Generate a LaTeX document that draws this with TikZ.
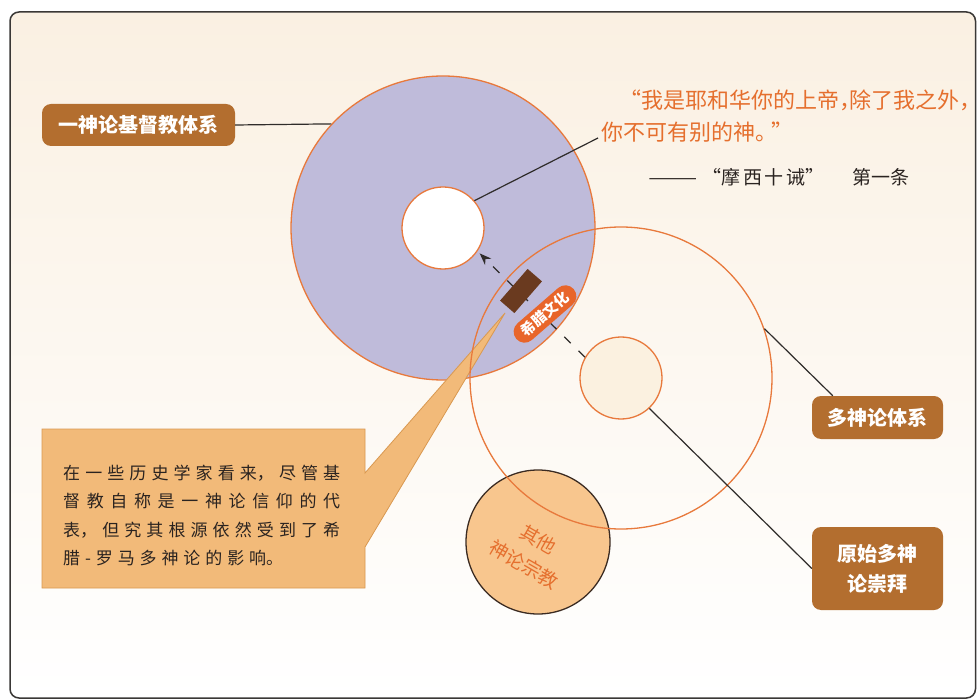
\documentclass[tikz,border=0pt]{standalone}
\usepackage{fontspec}
\newfontfamily\cjk{Noto Sans CJK SC}
\usetikzlibrary{arrows.meta}
\definecolor{bgtop}{HTML}{FAF0E2}
\definecolor{bgbot}{HTML}{FFFFFF}
\definecolor{framec}{HTML}{3A3836}
\definecolor{lav}{HTML}{BFBBDA}
\definecolor{orln}{HTML}{E8793C}
\definecolor{lblbrown}{HTML}{B36E2F}
\definecolor{calloutc}{HTML}{F2BA79}
\definecolor{calloutedge}{HTML}{D99850}
\definecolor{otherc}{HTML}{F8C68E}
\definecolor{otheredge}{HTML}{3B2B22}
\definecolor{primc}{HTML}{FBF1E0}
\definecolor{rectc}{HTML}{6A3A1F}
\definecolor{tagc}{HTML}{E8652A}
\definecolor{quotec}{HTML}{E56F2E}
\definecolor{leadc}{HTML}{2F2C2A}
\definecolor{bodyc}{HTML}{2A2320}
\begin{document}
\begin{tikzpicture}[x=1pt,y=-1pt,
  every node/.style={font=\cjk},
  ring/.style={circle, draw=orln, line width=1.3pt, inner sep=0pt},
  lbl/.style={rounded corners=9pt, fill=lblbrown, text=white,
    font=\cjk\bfseries\fontsize{20}{30}\selectfont, align=center, inner sep=0pt},
  leader/.style={draw=leadc, line width=1.2pt},
  bodytxt/.style={anchor=west, inner sep=0pt, text=bodyc,
    font=\cjk\fontsize{17}{17}\selectfont},
  quotetxt/.style={anchor=west, inner sep=0pt, text=quotec,
    font=\cjk\fontsize{22}{22}\selectfont}]
\useasboundingbox (0,0) rectangle (977,700);
\fill[white] (0,0) rectangle (977,700);
\shade[top color=bgtop, bottom color=bgbot, rounded corners=9pt] (10,12) rectangle (975.5,698);
\draw[framec, line width=1.5pt, rounded corners=9pt] (10,12) rectangle (975.5,698);

% monotheism disk
\node[ring, fill=lav, minimum size=304pt] (mono) at (443,228) {};
\node[ring, fill=white, minimum size=82pt] (hole) at (443,228) {};
% other religions
\node[circle, draw=otheredge, line width=1.3pt, fill=otherc, minimum size=144pt, inner sep=0pt] (other) at (538,542) {};
% callout box with wedge
\filldraw[fill=calloutc, draw=calloutedge, line width=0.8pt]
  (42,429) -- (365,429) -- (365,473) -- (505,313) -- (365,547) -- (365,588) -- (42,588) -- cycle;
% polytheism
\node[ring, minimum size=302pt] (poly) at (621,378) {};
\node[ring, fill=primc, minimum size=82pt] (prim) at (621,378) {};
\draw[leadc, line width=1.3pt, dash pattern=on 9pt off 11pt, shorten >=3pt,
  -{Stealth[length=12pt,width=9pt]}] (prim.150) -- (hole.-34);
% greek culture
\node[fill=rectc, minimum width=42pt, minimum height=19pt, rotate=49, inner sep=0pt] (grrect) at (521,291) {};
\node[fill=tagc, rounded corners=11pt, minimum height=22pt, minimum width=76pt, text=white,
  font=\cjk\bfseries\fontsize{14.5}{14.5}\selectfont, rotate=41, inner sep=0pt] (tag) at (545,314) {希腊文化};

% other religions text
\node[text=quotec, font=\cjk\fontsize{19}{29}\selectfont, align=center, rotate=-30, inner sep=0pt] (othertxt) at (531,552) {其他\\神论宗教};

% callout text
\node[bodytxt] (c1) at (63,473) {\makebox[277pt][s]{在 一 些 历 史 学 家 看 来， 尽 管 基}};
\node[bodytxt] (c2) at (63,501) {\makebox[277pt][s]{督 教 自 称 是 一 神 论 信 仰 的 代}};
\node[bodytxt] (c3) at (63,530) {\makebox[277pt][s]{表， 但 究 其 根 源 依 然 受 到 了 希}};
\node[bodytxt] (c4) at (63,558) {\makebox[220pt][s]{腊 - 罗 马 多 神 论 的 影 响。}};

% quote
\node[quotetxt] (q1) at (629,100) {\makebox[12pt][r]{“}我是耶和华你的上帝\makebox[10pt][l]{，}除了我之外\makebox[10pt][l]{，}};
\node[quotetxt] (q2) at (601,132) {你不可有别的神\makebox[16pt][l]{。}”};
\node[anchor=west, inner sep=0pt, text=bodyc, font=\cjk\fontsize{19}{19}\selectfont] (src) at (648,177)
  {\scalebox{1.55}[1]{——}\makebox[24pt][r]{“}摩\hspace{2.5pt}西\hspace{2.5pt}十\hspace{2.5pt}诫\makebox[12pt][l]{”}\hspace{35pt}第一条};
\coordinate (qend) at (598,138);
\draw[leader] (hole.41) -- (qend);

% labels
\node[lbl, minimum width=193pt, minimum height=42pt] (lbl1) at (138.5,125) {一神论基督教体系};
\node[lbl, minimum width=131pt, minimum height=43pt] (lbl2) at (877.5,417.5) {多神论体系};
\node[lbl, minimum width=131pt, minimum height=83pt] (lbl3) at (877.5,568.5) {原始多神\\论崇拜};
\draw[leader] (lbl1.east) -- (mono.137.3);
\draw[leader] ([xshift=21pt]lbl2.north west) -- (poly.19);
\draw[leader] (lbl3.west) -- (prim.-47);
\end{tikzpicture}
\end{document}
